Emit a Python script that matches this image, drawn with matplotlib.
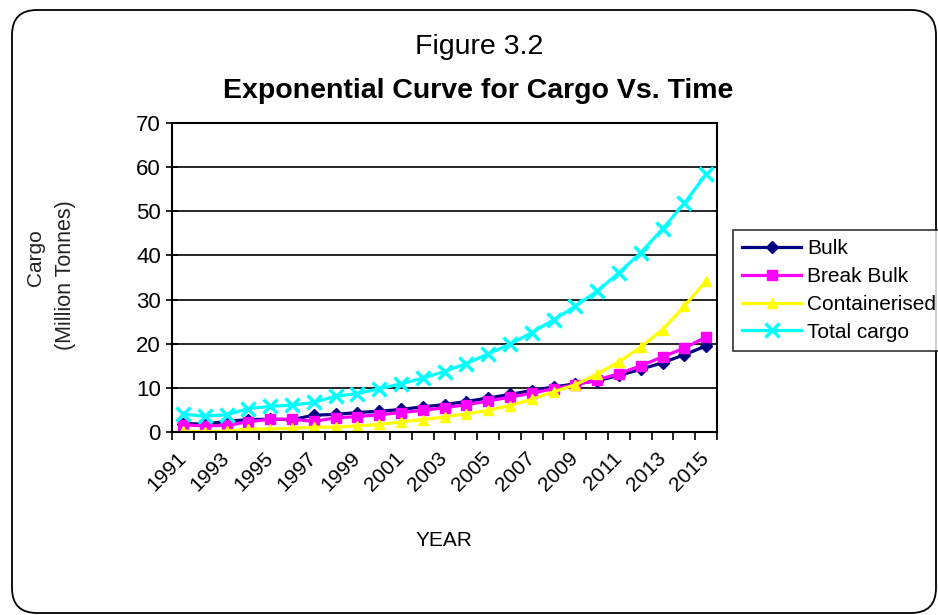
import numpy as np
import matplotlib
matplotlib.use("Agg")
import matplotlib.pyplot as plt
from matplotlib.patches import FancyBboxPatch

plt.rcParams['font.family'] = ['Liberation Sans', 'DejaVu Sans']

years = list(range(1991, 2016))
bulk = [1.9, 1.8, 2.4, 2.8, 2.9, 2.8, 3.8, 4.0, 4.4, 4.7, 5.1, 5.7, 6.2, 6.9, 7.7,
        8.5, 9.4, 10.2, 10.9, 11.6, 12.8, 14.2, 15.7, 17.5, 19.5]
break_bulk = [1.6, 1.4, 1.5, 2.3, 2.9, 2.9, 2.4, 3.2, 3.5, 3.9, 4.4, 4.9, 5.5, 6.2, 7.0,
              7.9, 8.8, 9.8, 10.7, 11.8, 13.2, 15.0, 17.0, 19.0, 21.5]
containerised = [0.2, 0.1, 0.2, 0.6, 0.7, 0.8, 1.1, 1.1, 1.4, 1.7, 2.3, 2.8, 3.4, 4.1, 4.9,
                 6.0, 7.4, 9.1, 10.7, 13.1, 15.9, 19.2, 23.2, 28.5, 34.2]
total_cargo = [4.0, 3.6, 3.9, 5.3, 5.8, 6.1, 6.7, 8.1, 8.7, 9.8, 10.9, 12.2, 13.7, 15.5, 17.7,
               19.9, 22.5, 25.4, 28.5, 31.9, 36.1, 40.6, 46.0, 51.8, 58.4]
series_names = ['Bulk', 'Break Bulk', 'Containerised', 'Total cargo']
y_ticks = [0, 10, 20, 30, 40, 50, 60, 70]

W, H = 938, 615
fig = plt.figure(figsize=(W / 100, H / 100), dpi=100)

# rounded border
border = FancyBboxPatch((0.12, 0.02), 9.24, 6.03, boxstyle="round,pad=0,rounding_size=0.25",
                        transform=fig.dpi_scale_trans, fill=False, edgecolor='black', linewidth=1.3)
fig.patches.append(border)

ax = fig.add_axes([172 / W, 1 - 432 / H, 545 / W, 309 / H])
x = np.arange(len(years))

styles = [
    dict(color='#000080', marker='D', markersize=6),
    dict(color='#FF00FF', marker='s', markersize=7),
    dict(color='#FFFF00', marker='^', markersize=7.5),
    dict(color='#00FFFF', marker='x', markersize=10, markeredgewidth=2.5),
]
for data, name, st in zip([bulk, break_bulk, containerised, total_cargo], series_names, styles):
    ax.plot(x, data, linewidth=2.3, label=name, **st)

ax.set_xlim(-0.5, len(years) - 0.5)
ax.set_ylim(0, 70)
ax.set_yticks(y_ticks)
ax.set_yticklabels([str(v) for v in y_ticks], fontsize=16)
ax.tick_params(axis='y', direction='inout', length=8, width=1.2, pad=4)

ax.set_xticks(np.arange(len(years) + 1) - 0.5)
ax.set_xticklabels([])
ax.tick_params(axis='x', which='major', direction='out', length=6, width=1.2)
ax.set_xticks(x[::2], minor=True)
ax.set_xticklabels([str(y) for y in years[::2]], minor=True, rotation=45,
                   ha='right', va='center', rotation_mode='anchor', fontsize=15)
ax.tick_params(axis='x', which='minor', length=0, pad=17)

ax.grid(axis='y', color='black', linewidth=1.2)
ax.set_axisbelow(True)
for s in ax.spines.values():
    s.set_linewidth(1.5)
    s.set_color('black')

fig.text(479 / W, 1 - 47 / H, 'Figure 3.2', ha='center', va='center', fontsize=20.5)
fig.text(478 / W, 1 - 91 / H, 'Exponential Curve for Cargo Vs. Time', ha='center', va='center',
         fontsize=20.5, fontweight='bold')
fig.text(444 / W, 1 - 540 / H, 'YEAR', ha='center', va='center', fontsize=15)
fig.text(35 / W, 1 - 258 / H, 'Cargo', ha='center', va='center', rotation=90, fontsize=15,
         color='#222222')
fig.text(65 / W, 1 - 275 / H, '(Million Tonnes)', ha='center', va='center', rotation=90,
         fontsize=15.5, color='#222222')

leg = fig.legend(loc='upper left', bbox_to_anchor=(733 / W, 1 - 230 / H), fontsize=15,
                 frameon=True, fancybox=False, edgecolor='black', handlelength=2.8,
                 borderpad=0.45, labelspacing=0.42, handletextpad=0.3, borderaxespad=0)
leg.get_frame().set_linewidth(1.2)

fig.savefig('out.png', dpi=100)
